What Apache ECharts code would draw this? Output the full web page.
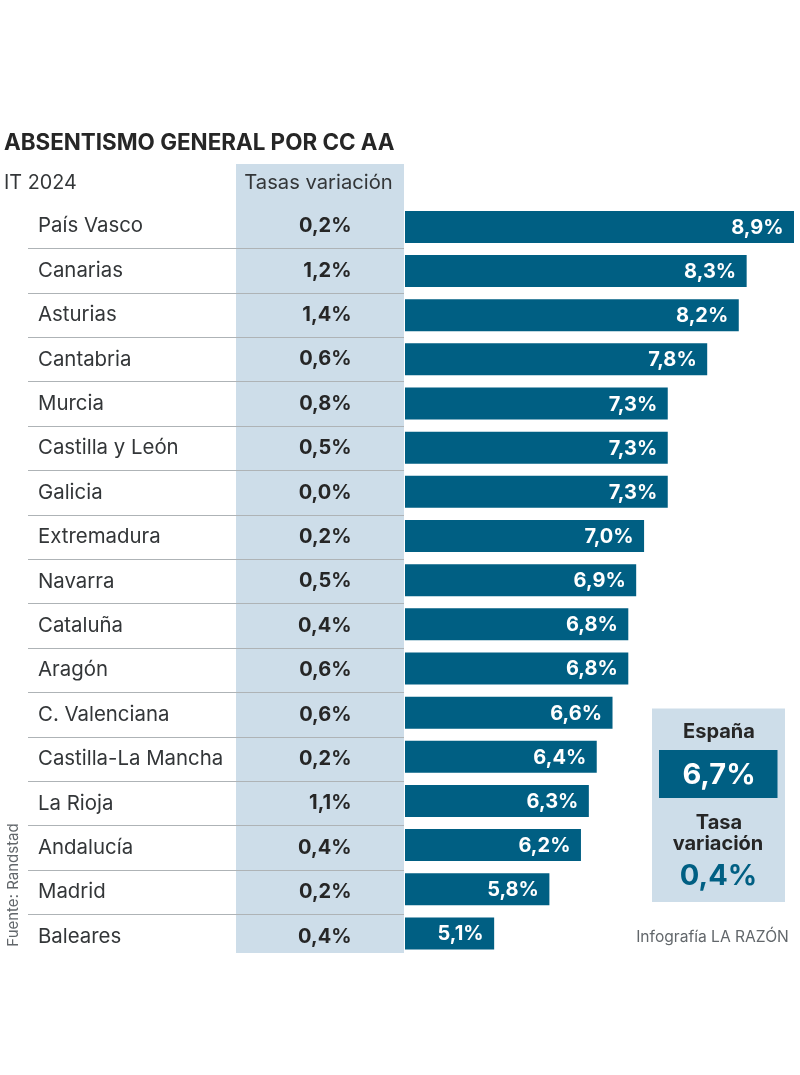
<!DOCTYPE html>
<html><head><meta charset="utf-8">
<style>html,body{margin:0;padding:0;background:#fff}#c{width:800px;height:1075px}</style>
<script src="https://cdn.jsdelivr.net/npm/echarts@6/dist/echarts.min.js"></script>
</head><body><div id="c"></div>
<script>
const categories = ['País Vasco','Canarias','Asturias','Cantabria','Murcia','Castilla y León','Galicia','Extremadura','Navarra','Cataluña','Aragón','C. Valenciana','Castilla-La Mancha','La Rioja','Andalucía','Madrid','Baleares'];
const absentismo = [8.9,8.3,8.2,7.8,7.3,7.3,7.3,7.0,6.9,6.8,6.8,6.6,6.4,6.3,6.2,5.8,5.1];
const variacion = [0.2,1.2,1.4,0.6,0.8,0.5,0.0,0.2,0.5,0.4,0.6,0.6,0.2,1.1,0.4,0.2,0.4];
const espana = 6.7;
const espanaVariacion = 0.4;

const FONT = 'Inter, "Liberation Sans", sans-serif';
const INK = '#262626', SOFT = '#333638', BLUE = '#005f83', PALE = '#cddde9', GREY = '#62676b';
const fmt = v => v.toFixed(1).replace('.', ',') + '%';
const txt = (x, y, text, size, weight, fill, align) => ({
  type:'text', x, y, z:5,
  style:{text, font:`${weight} ${size}px ${FONT}`, fill, align:align||'center', verticalAlign:'middle'}
});

const chart = echarts.init(document.getElementById('c'), null, {renderer:'canvas'});
chart.setOption({
  animation:false,
  backgroundColor:'#fff',
  grid:[
    {left:405, width:389, top:204.8, height:750.7},
    {left:28, width:376, top:204, height:754.8}
  ],
  xAxis:[
    {gridIndex:0, type:'value', min:3.97, max:8.9, show:false},
    {gridIndex:1, type:'value', min:0, max:1, show:false}
  ],
  yAxis:[
    {gridIndex:0, type:'category', inverse:true, data:categories, show:false},
    {gridIndex:1, type:'category', inverse:true, data:categories,
      axisLine:{show:false}, axisTick:{show:false},
      axisLabel:{interval:0, margin:-10, align:'left', color:SOFT, fontFamily:FONT, fontSize:20.4, fontWeight:400},
      splitLine:{show:true, showMinLine:false, showMaxLine:false, interval:0, lineStyle:{color:'#aeb3b6', width:1}}
    },
    {gridIndex:1, type:'category', inverse:true, position:'left', offset:-323.5, data:variacion.map(fmt),
      axisLine:{show:false}, axisTick:{show:false},
      axisLabel:{interval:0, margin:0, align:'right', color:INK, fontFamily:FONT, fontSize:20, fontWeight:700}
    }
  ],
  series:[{
    name:'Absentismo', type:'bar', xAxisIndex:0, yAxisIndex:0, data:absentismo, barWidth:32,
    itemStyle:{color:BLUE},
    label:{show:true, position:'insideRight', distance:10.5, offset:[0,1], color:'#fff', fontFamily:FONT, fontSize:20, fontWeight:700, formatter:p=>fmt(p.value)}
  }],
  graphic:{elements:[
    {type:'rect', z:-1, shape:{x:236,y:164,width:168,height:789}, style:{fill:PALE}},
    txt(4,143.5,'ABSENTISMO GENERAL POR CC AA',22.4,700,INK,'left'),
    txt(4,183,'IT 2024',19.8,400,SOFT,'left'),
    txt(318.5,183,'Tasas variación',20.2,400,SOFT),
    {type:'rect', z:1, shape:{x:652,y:708.5,width:133,height:193.5}, style:{fill:PALE}},
    {type:'rect', z:2, shape:{x:659,y:750,width:118.5,height:48}, style:{fill:BLUE}},
    txt(719,732,'España',20,700,INK),
    txt(719,775,fmt(espana),29,700,'#fff'),
    txt(719,823,'Tasa',20,700,INK),
    txt(718,844,'variación',20,700,INK),
    txt(718.5,876,fmt(espanaVariacion),29,700,BLUE),
    txt(712.5,937,'Infografía LA RAZÓN',15.6,400,GREY),
    {type:'text', x:13, y:885, rotation:Math.PI/2, z:5,
      style:{text:'Fuente: Randstad', font:`400 15px ${FONT}`, fill:GREY, align:'center', verticalAlign:'middle'}}
  ]}
});
</script></body></html>
